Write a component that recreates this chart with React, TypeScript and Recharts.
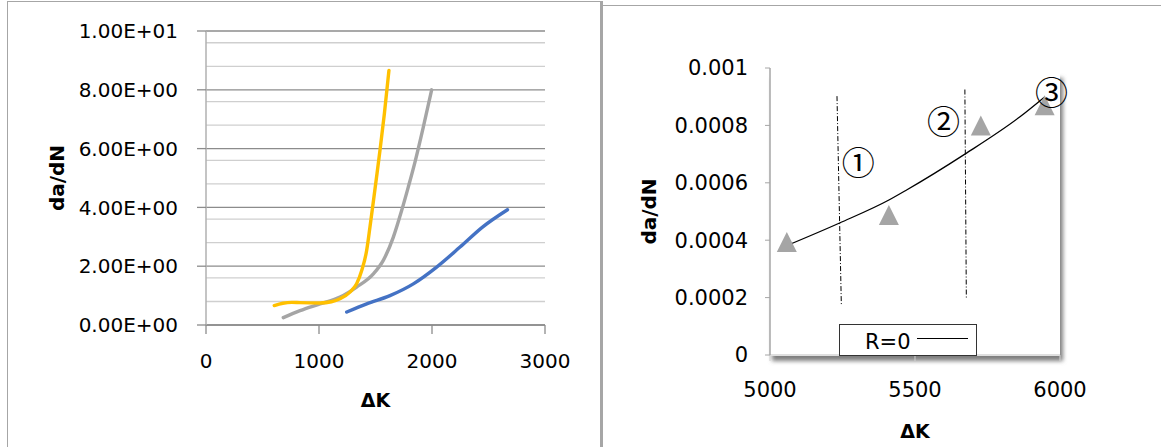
import React from 'react';
import {
  LineChart,
  ComposedChart,
  Line,
  Scatter,
  XAxis,
  YAxis,
  CartesianGrid,
  ReferenceLine,
  ReferenceArea,
  ReferenceDot,
  Legend,
  Label,
} from 'recharts';

const FONT = '"DejaVu Sans", sans-serif';

// ---------- Left chart data ----------
const leftXTicks = [0, 1000, 2000, 3000];
const leftYTicks = [0, 2, 4, 6, 8, 10];
const leftYTickLabels = ['0.00E+00', '2.00E+00', '4.00E+00', '6.00E+00', '8.00E+00', '1.00E+01'];
const leftMinorGrid = [
  0.4, 0.8, 1.2, 1.6, 2.4, 2.8, 3.2, 3.6, 4.4, 4.8, 5.2, 5.6, 6.4, 6.8, 7.2, 7.6, 8.4, 8.8, 9.2, 9.6,
];

const yellowSeries = [
  { x: 604, y: 0.66 },
  { x: 680, y: 0.74 },
  { x: 760, y: 0.77 },
  { x: 832, y: 0.76 },
  { x: 1009, y: 0.75 },
  { x: 1110, y: 0.79 },
  { x: 1186, y: 0.89 },
  { x: 1274, y: 1.12 },
  { x: 1333, y: 1.4 },
  { x: 1378, y: 1.85 },
  { x: 1422, y: 2.54 },
  { x: 1451, y: 3.33 },
  { x: 1481, y: 4.2 },
  { x: 1510, y: 5.05 },
  { x: 1540, y: 5.95 },
  { x: 1579, y: 7.2 },
  { x: 1619, y: 8.66 },
];

const greySeries = [
  { x: 684, y: 0.25 },
  { x: 832, y: 0.49 },
  { x: 1009, y: 0.72 },
  { x: 1186, y: 0.95 },
  { x: 1333, y: 1.29 },
  { x: 1481, y: 1.74 },
  { x: 1569, y: 2.2 },
  { x: 1658, y: 2.99 },
  { x: 1732, y: 3.9 },
  { x: 1790, y: 4.69 },
  { x: 1850, y: 5.55 },
  { x: 1923, y: 6.73 },
  { x: 1997, y: 8.0 },
];

const blueSeries = [
  { x: 1245, y: 0.44 },
  { x: 1422, y: 0.72 },
  { x: 1628, y: 1.0 },
  { x: 1835, y: 1.4 },
  { x: 2041, y: 1.97 },
  { x: 2248, y: 2.65 },
  { x: 2447, y: 3.33 },
  { x: 2668, y: 3.92 },
];

// ---------- Right chart data ----------
const rightXTicks = [5000, 5500, 6000];
const rightYTicks = [0, 0.0002, 0.0004, 0.0006, 0.0008, 0.001];
const rightYTickLabels = ['0', '0.0002', '0.0004', '0.0006', '0.0008', '0.001'];

const measuredPoints = [
  { x: 5058, y: 0.000394 },
  { x: 5410, y: 0.000488 },
  { x: 5727, y: 0.0008 },
  { x: 5947, y: 0.00087 },
];

const trendR0 = [
  { x: 5055, y: 0.00038 },
  { x: 5240, y: 0.00046 },
  { x: 5410, y: 0.00054 },
  { x: 5471, y: 0.000575 },
  { x: 5672, y: 0.0007 },
  { x: 5862, y: 0.00083 },
  { x: 5948, y: 0.0009 },
];

const divider1 = [
  { x: 5231, y: 0.000902 },
  { x: 5246, y: 0.000174 },
];
const divider2 = [
  { x: 5672, y: 0.000925 },
  { x: 5677, y: 0.0002 },
];

const regionMarks = [
  { x: 5304, y: 0.000675, label: '①' },
  { x: 5598, y: 0.00082, label: '②' },
  { x: 5971, y: 0.000919, label: '③' },
];

const tickStyle = { fill: '#000', fontSize: 20, fontFamily: FONT };
const tickStyleR = { fill: '#000', fontSize: 21, fontFamily: FONT };

const yTitle = (dx: number) => (props: any) => {
  const vb = props.viewBox || { x: 0, y: 0, width: 0, height: 0 };
  const cx = vb.x + dx;
  const cy = vb.y + vb.height / 2;
  return (
    <text
      x={cx}
      y={cy}
      transform={`rotate(-90 ${cx} ${cy})`}
      textAnchor="middle"
      dominantBaseline="central"
      fontFamily={FONT}
      fontWeight="bold"
      fontSize={20}
      fill="#000"
    >
      da/dN
    </text>
  );
};

const xTitle = (dy: number) => (props: any) => {
  const vb = props.viewBox || { x: 0, y: 0, width: 0, height: 0 };
  return (
    <text
      x={vb.x + vb.width / 2}
      y={vb.y + dy}
      textAnchor="middle"
      fontFamily={FONT}
      fontWeight="bold"
      fontSize={19}
      fill="#000"
    >
      ΔK
    </text>
  );
};

const triangleShape = (p: any) => {
  const { cx, cy } = p;
  if (cx == null || cy == null) return <g />;
  return <path d={`M${cx},${cy - 10} L${cx + 10},${cy + 10} L${cx - 10},${cy + 10} Z`} fill="#a5a5a5" />;
};

const plotBackground = (p: any) => {
  const { x, y, width, height } = p;
  return (
    <g>
      <defs>
        <filter id="plotShadow" x="-10%" y="-10%" width="130%" height="130%">
          <feGaussianBlur stdDeviation="2.2" />
        </filter>
      </defs>
      <rect x={x + 2} y={y + 10} width={width + 1} height={height - 4} fill="#7f7f7f" filter="url(#plotShadow)" />
      <rect x={x} y={y + 2} width={width} height={height - 1} fill="#fff" />
    </g>
  );
};

const legendContent = (props: any) => {
  const item = (props.payload || [])[0];
  return (
    <div
      style={{
        position: 'relative',
        width: 138,
        height: 32,
        border: '1px solid #333',
        boxSizing: 'border-box',
        background: '#fff',
        fontFamily: FONT,
        fontSize: 21,
        color: '#000',
      }}
    >
      <span style={{ position: 'absolute', left: 25, top: 5, lineHeight: 'normal', whiteSpace: 'nowrap' }}>
        {item ? item.value : ''}
      </span>
      <div style={{ position: 'absolute', left: 77, top: 13, width: 51, height: 1, background: '#000' }} />
    </div>
  );
};

function LeftChart() {
  return (
    <LineChart width={600} height={447} margin={{ top: 31, right: 55, bottom: 62, left: 0 }}>
      <CartesianGrid horizontalValues={leftMinorGrid} vertical={false} stroke="#cfcfcf" strokeWidth={1.3} />
      <CartesianGrid horizontalValues={leftYTicks} vertical={false} stroke="#8c8c8c" strokeWidth={1.3} />
      <XAxis
        type="number"
        dataKey="x"
        domain={[0, 3000]}
        ticks={leftXTicks}
        allowDataOverflow
        height={60}
        tick={tickStyle}
        tickSize={9}
        tickMargin={20}
        axisLine={{ stroke: '#8c8c8c', strokeWidth: 1.3 }}
        tickLine={{ stroke: '#8c8c8c', strokeWidth: 1.3 }}
      >
        <Label content={xTitle(82)} />
      </XAxis>
      <YAxis
        type="number"
        dataKey="y"
        domain={[0, 10]}
        ticks={leftYTicks}
        allowDataOverflow
        width={206}
        tick={tickStyle}
        tickSize={9}
        tickMargin={19}
        tickFormatter={(v: number) => leftYTickLabels[leftYTicks.indexOf(v)] ?? String(v)}
        axisLine={{ stroke: '#b0b0b0', strokeWidth: 1.5 }}
        tickLine={{ stroke: '#8c8c8c', strokeWidth: 1.3 }}
      >
        <Label content={yTitle(57)} />
      </YAxis>
      <Line
        data={greySeries}
        dataKey="y"
        type="monotone"
        stroke="#a5a5a5"
        strokeWidth={3.4}
        strokeLinecap="round"
        dot={false}
        activeDot={false}
        isAnimationActive={false}
      />
      <Line
        data={blueSeries}
        dataKey="y"
        type="monotone"
        stroke="#4472c4"
        strokeWidth={3.4}
        strokeLinecap="round"
        dot={false}
        activeDot={false}
        isAnimationActive={false}
      />
      <Line
        data={yellowSeries}
        dataKey="y"
        type="monotone"
        stroke="#ffc000"
        strokeWidth={3.4}
        strokeLinecap="round"
        dot={false}
        activeDot={false}
        isAnimationActive={false}
      />
    </LineChart>
  );
}

function RightChart() {
  return (
    <ComposedChart width={561} height={447} margin={{ top: 68, right: 101, bottom: 42, left: 0 }}>
      <ReferenceArea x1={5000} x2={6000} y1={0} y2={0.001} shape={plotBackground} ifOverflow="visible" />
      <XAxis
        type="number"
        dataKey="x"
        domain={[5000, 6000]}
        ticks={rightXTicks}
        allowDataOverflow
        height={50}
        tick={tickStyleR}
        tickSize={6}
        tickMargin={21}
        axisLine={{ stroke: '#bfbfbf' }}
        tickLine={{ stroke: '#d0d0d0' }}
      >
        <Label content={xTitle(83)} />
      </XAxis>
      <YAxis
        type="number"
        dataKey="y"
        domain={[0, 0.001]}
        ticks={rightYTicks}
        allowDataOverflow
        width={170}
        tick={tickStyleR}
        tickSize={5}
        tickMargin={17}
        tickFormatter={(v: number) => rightYTickLabels[rightYTicks.indexOf(v)] ?? String(v)}
        axisLine={{ stroke: '#a6a6a6', strokeWidth: 1.5 }}
        tickLine={{ stroke: '#a6a6a6' }}
      >
        <Label content={yTitle(49)} />
      </YAxis>
      <ReferenceLine
        segment={divider1}
        stroke="#000"
        strokeWidth={1}
        strokeDasharray="5 2 1 2"
        ifOverflow="visible"
      />
      <ReferenceLine
        segment={divider2}
        stroke="#000"
        strokeWidth={1}
        strokeDasharray="5 2 1 2"
        ifOverflow="visible"
      />
      <Scatter
        data={measuredPoints}
        dataKey="y"
        shape={triangleShape}
        legendType="none"
        isAnimationActive={false}
      />
      <Line
        data={trendR0}
        dataKey="y"
        name="R=0"
        type="monotone"
        stroke="#000"
        strokeWidth={1.3}
        dot={false}
        activeDot={false}
        isAnimationActive={false}
      />
      {regionMarks.map((m) => (
        <ReferenceDot
          key={m.label}
          x={m.x}
          y={m.y}
          r={14}
          ifOverflow="visible"
          shape={(p: any) => (
            <text
              x={p.cx}
              y={p.cy}
              textAnchor="middle"
              dominantBaseline="central"
              fontFamily='"Noto Sans CJK JP", sans-serif'
              fontSize={33}
              fill="#000"
            >
              {m.label}
            </text>
          )}
        />
      ))}
      <Legend
        layout="horizontal"
        verticalAlign="middle"
        align="center"
        content={legendContent}
        wrapperStyle={{ position: 'absolute', left: 239, top: 324, width: 138, height: 32 }}
      />
    </ComposedChart>
  );
}

export default function App() {
  return (
    <div
      style={{
        position: 'absolute',
        left: 0,
        top: 0,
        width: 1161,
        height: 447,
        overflow: 'hidden',
        background: '#fff',
      }}
    >
      <div
        style={{
          position: 'absolute',
          left: 7,
          top: 1,
          width: 594,
          height: 500,
          borderTop: '1px solid #a6a6a6',
          borderLeft: '1px solid #a6a6a6',
          boxSizing: 'border-box',
        }}
      />
      <div style={{ position: 'absolute', left: 600, top: 1, width: 3, height: 446, background: '#a6a6a6' }} />
      <div style={{ position: 'absolute', left: 603, top: 5, width: 600, height: 1, background: '#a6a6a6' }} />
      <div style={{ position: 'absolute', left: 0, top: 0 }}>
        <LeftChart />
      </div>
      <div style={{ position: 'absolute', left: 600, top: 0 }}>
        <RightChart />
      </div>
    </div>
  );
}
